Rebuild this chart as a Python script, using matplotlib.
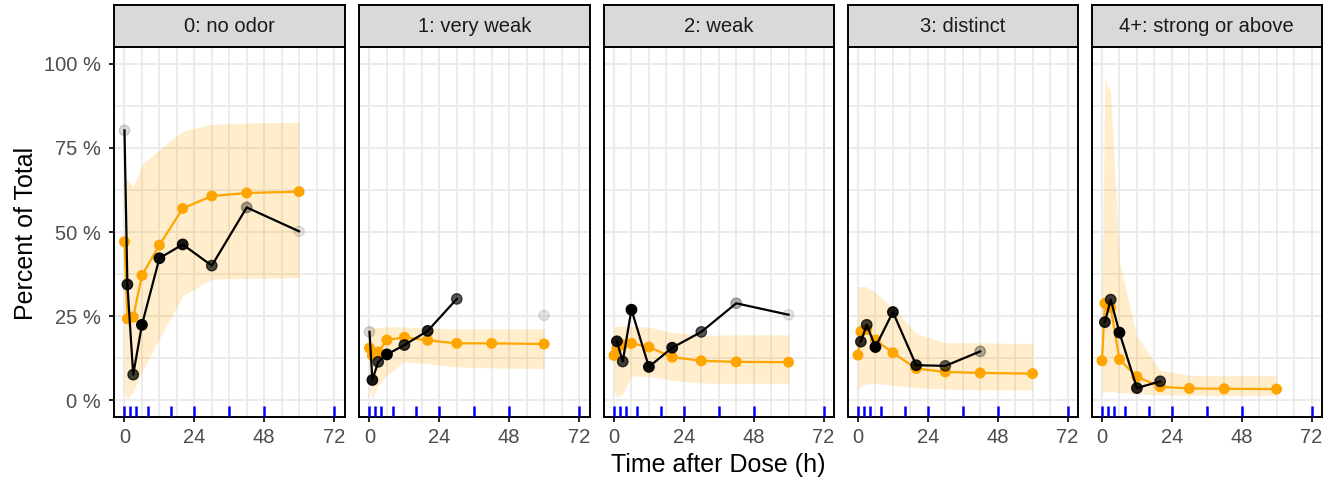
import numpy as np
import matplotlib
matplotlib.use("Agg")
import matplotlib.pyplot as plt

plt.rcParams['font.family'] = ['Liberation Sans', 'DejaVu Sans']

nan = np.nan

categories = ["0: no odor", "1: very weak", "2: weak", "3: distinct", "4+: strong or above"]
times = [0, 1, 3, 6, 12, 20, 30, 42, 60]
rug_times = [0, 2, 4, 8, 16, 24, 36, 48, 72]

# observed percentages (black)
obs_0 = [80.2, 34.4, 7.6, 22.4, 42.2, 46.3, 40.0, 57.3, 50.2]
obs_1 = [20.3, 6.0, 11.4, 13.6, 16.4, 20.6, 30.1, nan, 25.2]
obs_2 = [nan, 17.5, 11.5, 26.9, 9.9, 15.6, 20.3, 28.8, 25.4]
obs_3 = [nan, 17.4, 22.4, 15.8, 26.2, 10.4, 10.2, 14.5, nan]
obs_4 = [nan, 23.2, 29.9, 20.1, 3.6, 5.6, nan, nan, nan]

# opacity of observed points
alpha_0 = [0.15, 0.85, 0.75, 1.0, 0.95, 0.9, 0.7, 0.35, 0.1]
alpha_1 = [0.15, 0.9, 0.75, 1.0, 0.8, 0.85, 0.65, 0.0, 0.1]
alpha_2 = [0.0, 0.9, 0.75, 1.0, 0.95, 0.9, 0.65, 0.3, 0.1]
alpha_3 = [0.0, 0.8, 0.75, 1.0, 0.9, 0.85, 0.6, 0.3, 0.0]
alpha_4 = [0.0, 0.85, 0.75, 1.0, 0.85, 0.75, 0.0, 0.0, 0.0]

# predicted median (orange)
pred_0 = [47.1, 24.2, 24.7, 37.1, 46.1, 57.0, 60.7, 61.6, 62.0]
pred_1 = [15.5, 13.3, 14.3, 17.9, 18.7, 17.8, 16.9, 16.9, 16.7]
pred_2 = [13.3, 15.5, 16.5, 16.9, 15.8, 12.8, 11.7, 11.4, 11.3]
pred_3 = [13.4, 20.4, 21.0, 17.9, 14.1, 9.4, 8.4, 8.1, 7.9]
pred_4 = [11.7, 28.8, 27.5, 12.1, 7.0, 4.0, 3.5, 3.4, 3.3]

# prediction interval
lo_0 = [2.0, 0.3, 2.5, 8.5, 18.3, 31.0, 36.0, 36.2, 36.4]
hi_0 = [66.0, 65.5, 63.5, 70.0, 74.5, 80.0, 82.0, 82.4, 82.6]
lo_1 = [3.0, 0.5, 4.5, 7.4, 11.5, 10.8, 9.9, 9.6, 9.4]
hi_1 = [21.5, 21.5, 21.5, 21.8, 21.8, 21.4, 21.2, 21.2, 21.2]
lo_2 = [3.5, 0.7, 2.0, 7.2, 7.1, 5.9, 5.1, 5.0, 5.0]
hi_2 = [22.0, 22.0, 22.0, 22.0, 21.7, 20.2, 19.3, 19.4, 19.4]
lo_3 = [3.0, 4.4, 4.8, 5.1, 4.4, 3.7, 3.3, 3.1, 3.0]
hi_3 = [33.8, 33.8, 33.7, 32.1, 27.5, 19.8, 17.1, 17.0, 16.9]
lo_4 = [2.5, 2.6, 2.5, 2.3, 1.9, 1.6, 1.5, 1.4, 1.4]
hi_4 = [30.0, 95.8, 91.3, 41.0, 19.0, 8.9, 7.4, 7.3, 7.3]

obs_all = [obs_0, obs_1, obs_2, obs_3, obs_4]
alpha_all = [alpha_0, alpha_1, alpha_2, alpha_3, alpha_4]
pred_all = [pred_0, pred_1, pred_2, pred_3, pred_4]
lo_all = [lo_0, lo_1, lo_2, lo_3, lo_4]
hi_all = [hi_0, hi_1, hi_2, hi_3, hi_4]

W, H = 1333, 482
fig = plt.figure(figsize=(W / 100, H / 100), dpi=100)

lefts = [114, 359, 603.5, 847.5, 1091.5]
pw = 230.5
top, bottom, strip_top = 47, 417, 5
tick_color = '#4D4D4D'

for i, cat in enumerate(categories):
    ax = fig.add_axes([lefts[i] / W, (H - bottom) / H, pw / W, (bottom - top) / H])
    sax = fig.add_axes([lefts[i] / W, (H - top) / H, pw / W, (top - strip_top) / H])

    # strip
    sax.set_facecolor('#D9D9D9')
    sax.set_xticks([]); sax.set_yticks([])
    for sp in sax.spines.values():
        sp.set_color('black'); sp.set_linewidth(1.4)
    sax.text(0.5, 0.5, cat, ha='center', va='center', fontsize=14.5,
             color='#1A1A1A', transform=sax.transAxes)

    ax.set_xlim(-3.6, 75.6)
    ax.set_ylim(-5, 105)
    ax.set_xticks([0, 24, 48, 72])
    ax.set_xticks([t for t in range(0, 73, 6) if t % 24 != 0], minor=True)
    ax.set_yticks([0, 25, 50, 75, 100])
    ax.set_yticks([12.5, 37.5, 62.5, 87.5], minor=True)
    ax.set_axisbelow(True)
    ax.grid(which='major', color='#EBEBEB', lw=1.5)
    ax.grid(which='minor', color='#EBEBEB', lw=1.3)
    ax.tick_params(which='minor', length=0)
    ax.tick_params(axis='x', which='major', length=3.5, width=1.2, color='black',
                   labelsize=14.5, labelcolor=tick_color, pad=4.5)
    if i == 0:
        ax.set_yticklabels([f"{v} %" for v in [0, 25, 50, 75, 100]])
        ax.tick_params(axis='y', which='major', length=3.5, width=1.2, color='black',
                       labelsize=14.5, labelcolor=tick_color, pad=6)
    else:
        ax.tick_params(axis='y', which='major', length=0, labelleft=False)
    for sp in ax.spines.values():
        sp.set_color('black'); sp.set_linewidth(1.4)

    # interval band
    ax.fill_between(times, lo_all[i], hi_all[i], color='orange', alpha=0.2, lw=0, zorder=2)
    # predicted median
    ax.plot(times, pred_all[i], color='orange', lw=1.6, zorder=3)
    ax.scatter(times, pred_all[i], s=62, color='orange', edgecolors='none', zorder=4)
    # observed
    ax.plot(times, obs_all[i], color='black', lw=1.6, zorder=5)
    ob = np.array(obs_all[i], dtype=float)
    al = np.array(alpha_all[i], dtype=float)
    m = ~np.isnan(ob)
    cols = [(0, 0, 0, a) for a in al[m]]
    ax.scatter(np.array(times)[m], ob[m], s=56, c=cols, edgecolors=cols,
               linewidths=1.0, zorder=6)
    # rug
    ax.vlines(rug_times, 0, 0.03, transform=ax.get_xaxis_transform(),
              colors='blue', lw=1.8, zorder=7)

fig.text(26 / W, 1 - 233 / H, 'Percent of Total', rotation=90, fontsize=18,
         ha='center', va='center', color='black')
fig.text(718 / W, 1 - 465 / H, 'Time after Dose (h)', fontsize=18,
         ha='center', va='center', color='black')

fig.savefig('out.png', dpi=100)
